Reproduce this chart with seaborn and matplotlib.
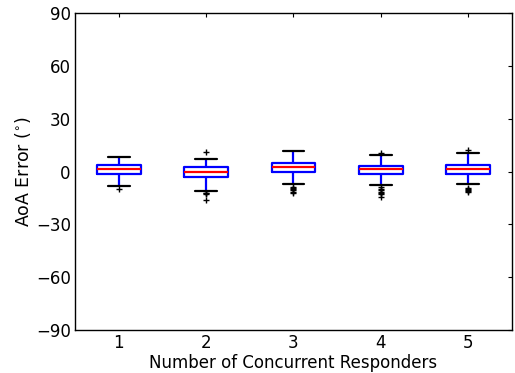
import pandas as pd
import seaborn as sns
import matplotlib.pyplot as plt

# Box statistics (degrees)
responders = ["1", "2", "3", "4", "5"]
whisker_low = [-8.1, -11.1, -7.3, -7.5, -7.3]
q1 = [-1.6, -3.3, -0.3, -1.4, -1.4]
median = [1.2, -0.3, 2.4, 1.2, 1.6]
q3 = [3.5, 2.4, 5.0, 3.4, 3.7]
whisker_high = [8.0, 7.3, 11.8, 9.2, 10.3]
outliers_low = [
    [-10.1],
    [-11.9, -12.3, -12.8, -16.4],
    [-8.6, -9.2, -9.8, -10.5, -11.4, -12.3],
    [-9.0, -9.8, -10.6, -11.4, -12.2, -13.0, -14.2],
    [-9.3, -9.8, -10.3, -10.8, -11.4],
]
outliers_high = [[], [11.2], [], [10.8], [12.0]]


def samples(lo, a, m, b, hi, out_lo, out_hi, k=10):
    # sample set whose quartiles land exactly on the read values (n = 4k+1)
    vals = list(out_lo) + [lo] + [a] * (k - len(out_lo))
    vals += [m] * k + [b] * (2 * k - len(out_hi) - 1) + [hi] + list(out_hi)
    return vals


rows = []
for i, r in enumerate(responders):
    for v in samples(whisker_low[i], q1[i], median[i], q3[i], whisker_high[i],
                     outliers_low[i], outliers_high[i]):
        rows.append({"responders": r, "error": v})
df = pd.DataFrame(rows)

sns.set_style("white")
plt.rcParams["font.family"] = ["DejaVu Sans"]
plt.rcParams["mathtext.fontset"] = "dejavusans"
plt.rcParams["text.color"] = "black"
plt.rcParams["axes.labelcolor"] = "black"

fig = plt.figure(figsize=(5.15, 3.73), dpi=100)
ax = fig.add_axes([0.1456, 0.115, 0.8484, 0.85])

sns.boxplot(data=df, x="responders", y="error", order=responders, ax=ax,
            width=0.5, fill=False, color="blue", linewidth=1.6,
            boxprops=dict(color="blue", linewidth=1.6),
            whiskerprops=dict(color="blue", linewidth=1.6, linestyle="-"),
            capprops=dict(color="black", linewidth=1.6),
            medianprops=dict(color="red", linewidth=1.6),
            flierprops=dict(marker="+", markeredgecolor="black",
                            markersize=5, markeredgewidth=1.0))

ax.set_ylim(-90, 90)
ax.set_xlim(-0.5, 4.5)
ax.set_yticks([-90, -60, -30, 0, 30, 60, 90])
ax.set_xlabel("Number of Concurrent Responders", fontsize=12, labelpad=1,
              color="black")
ax.set_ylabel(r"AoA Error ($^{\circ}$)", fontsize=12.5, labelpad=2,
              color="black")
ax.tick_params(direction="in", top=True, right=True, length=3, width=0.8,
               labelsize=12, colors="black")
ax.tick_params(axis="x", pad=3)
ax.tick_params(axis="y", pad=3)
for s in ax.spines.values():
    s.set_color("black")
    s.set_linewidth(1.0)

fig.savefig("out.png", dpi=100)
